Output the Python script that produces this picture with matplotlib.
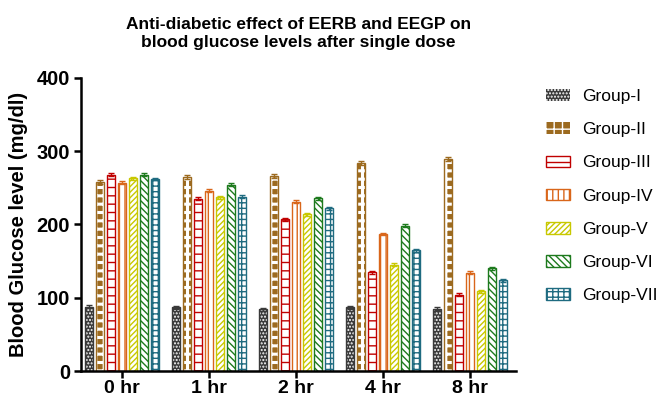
import matplotlib
matplotlib.use('Agg')
import matplotlib.pyplot as plt
import numpy as np

plt.rcParams['font.family'] = ['Liberation Sans', 'DejaVu Sans']
plt.rcParams['hatch.linewidth'] = 1.0

times = ['0 hr', '1 hr', '2 hr', '4 hr', '8 hr']
groups = ['Group-I', 'Group-II', 'Group-III', 'Group-IV',
          'Group-V', 'Group-VI', 'Group-VII']

# blood glucose (mg/dl), one list per group over the time points
g1 = [88, 87, 84, 87, 85]
g2 = [258, 265, 266, 284, 289]
g3 = [268, 235, 207, 135, 104]
g4 = [257, 246, 231, 187, 134]
g5 = [263, 237, 214, 145, 109]
g6 = [268, 254, 236, 198, 140]
g7 = [262, 238, 222, 165, 124]
values = [g1, g2, g3, g4, g5, g6, g7]
errors = [2, 3, 2, 2, 2, 2, 2]

colors = ['#3a3a3a', '#9c6a1f', '#c00000', '#d9661a',
          '#c8c800', '#1d7a1d', '#1f6b80']
hatches = ['.....', '++', '--', '|||', '//////', '\\\\\\\\\\', '+++']
hatch_lw = [1.0, 2.2, 1.0, 1.0, 1.0, 1.0, 1.0]

fig = plt.figure(figsize=(6.64, 3.99), dpi=100)
ax = fig.add_axes([0.122, 0.07, 0.655, 0.735])

x = np.arange(len(times))
step = 0.127
width = 0.092
for i in range(len(groups)):
    pos = x + (i - 3) * step
    c = colors[i]
    with plt.rc_context({'hatch.linewidth': hatch_lw[i]}):
        if i < 2:
            # dark fill with white pattern
            ax.bar(pos, values[i], width, color=c, edgecolor='white',
                   hatch=hatches[i], linewidth=0, label=groups[i])
            ax.bar(pos, values[i], width, facecolor='none', edgecolor=c, linewidth=1)
        else:
            ax.bar(pos, values[i], width, color='white', edgecolor=c,
                   hatch=hatches[i], linewidth=1, label=groups[i])
    ax.errorbar(pos, values[i], yerr=errors[i], fmt='none', ecolor=c,
                elinewidth=1, capsize=2.5, capthick=1)

ax.set_xlim(-0.474, 4.53)
ax.set_ylim(0, 400)
ax.set_yticks([0, 100, 200, 300, 400])
ax.set_xticks(x)
ax.set_xticklabels(times)
for s in ['top', 'right']:
    ax.spines[s].set_visible(False)
for s in ['left', 'bottom']:
    ax.spines[s].set_linewidth(1.8)
ax.tick_params(width=1.8, length=5, labelsize=14.5, pad=3)
ax.tick_params(axis='x', labelsize=14, pad=1.5)
for lab in ax.get_xticklabels() + ax.get_yticklabels():
    lab.set_fontweight('bold')
ax.set_ylabel('Blood Glucose level (mg/dl)', fontsize=14.5, fontweight='bold',
              labelpad=6)
ax.set_title('Anti-diabetic effect of EERB and EEGP on\nblood glucose levels after single dose',
             fontsize=12.5, fontweight='bold', pad=22, linespacing=1.25)

ax.legend(loc='upper left', bbox_to_anchor=(1.069, 0.962), frameon=False,
          fontsize=12.5, handlelength=1.4, handleheight=0.65, borderpad=0,
          borderaxespad=0, labelspacing=1.05, handletextpad=0.7)

fig.savefig('out.png', dpi=100)
